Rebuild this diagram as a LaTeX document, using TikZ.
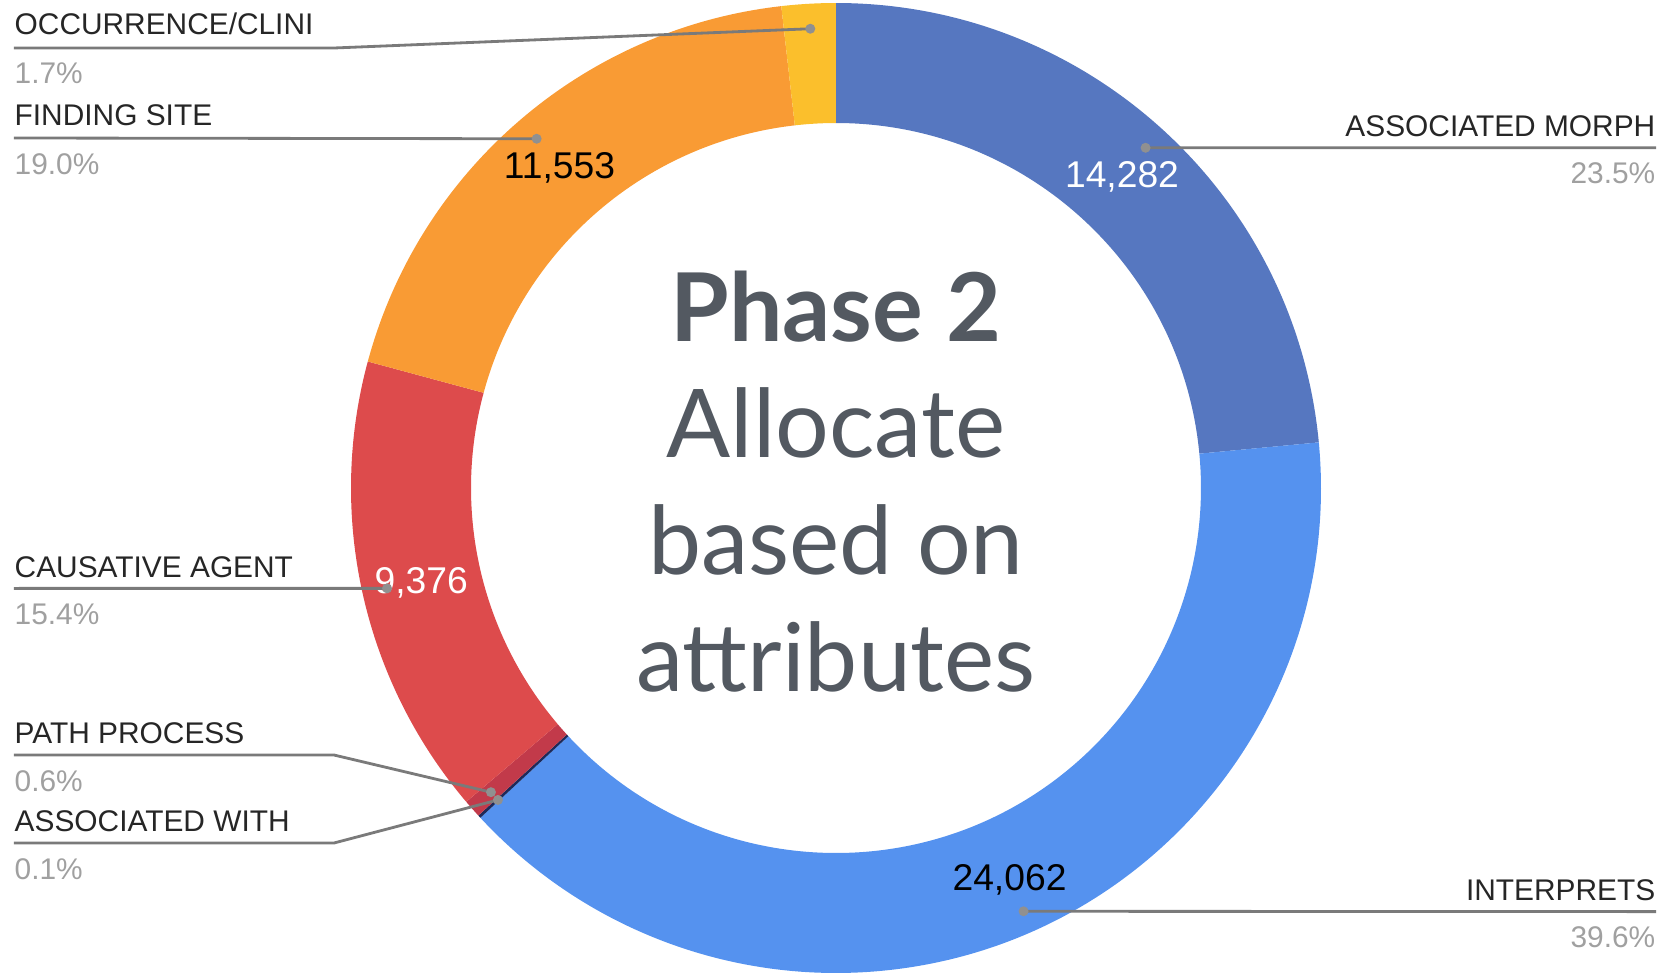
\documentclass[tikz,border=0pt]{standalone}
\usepackage{fontspec}
\usepackage{tikz}
\usepackage{xcolor}
\usetikzlibrary{calc, positioning}

\setmainfont{Liberation Sans}
\newfontfamily\latofont{Lato}

\definecolor{cmorph}{HTML}{5677C0}
\definecolor{cinterp}{HTML}{5592EF}
\definecolor{cwith}{HTML}{1E2A5A}
\definecolor{cpath}{HTML}{C23A4A}
\definecolor{ccaus}{HTML}{DD4B4C}
\definecolor{cfind}{HTML}{F99B34}
\definecolor{cocc}{HTML}{FBBF2C}
\definecolor{ctitle}{HTML}{535961}
\definecolor{cleader}{HTML}{7A7A7A}
\definecolor{cpct}{HTML}{A0A0A0}

\tikzset{
    leader/.style={draw=cleader, line width=0.8pt},
    ldot/.style={fill=cpct!90!black},
    lname/.style={inner sep=0pt, text=black!85, font=\fontsize{8.5}{10}\selectfont},
    lpct/.style={inner sep=0pt, text=cpct, font=\fontsize{8.5}{10}\selectfont},
    lvalue/.style={inner sep=0pt, font=\fontsize{10.6}{12}\selectfont},
    ltitle/.style={inner sep=0pt, anchor=base, text=ctitle, font=\latofont\fontsize{27}{33}\selectfont}
}

\begin{document}
\begin{tikzpicture}
    \useasboundingbox (-8.36, -4.87) rectangle (8.26, 4.88);

    % ring
    \fill[cmorph] (90:4.85) arc[start angle=90, end angle=5.4, radius=4.85] -- (5.4:3.65) arc[start angle=5.4, end angle=90, radius=3.65] -- cycle;
    \fill[cinterp] (5.4:4.85) arc[start angle=5.4, end angle=-137.16, radius=4.85] -- (-137.16:3.65) arc[start angle=-137.16, end angle=5.4, radius=3.65] -- cycle;
    \fill[cwith] (-137.16:4.85) arc[start angle=-137.16, end angle=-137.52, radius=4.85] -- (-137.52:3.65) arc[start angle=-137.52, end angle=-137.16, radius=3.65] -- cycle;
    \fill[cpath] (-137.52:4.85) arc[start angle=-137.52, end angle=-139.68, radius=4.85] -- (-139.68:3.65) arc[start angle=-139.68, end angle=-137.52, radius=3.65] -- cycle;
    \fill[ccaus] (-139.68:4.85) arc[start angle=-139.68, end angle=-195.12, radius=4.85] -- (-195.12:3.65) arc[start angle=-195.12, end angle=-139.68, radius=3.65] -- cycle;
    \fill[cfind] (-195.12:4.85) arc[start angle=-195.12, end angle=-263.52, radius=4.85] -- (-263.52:3.65) arc[start angle=-263.52, end angle=-195.12, radius=3.65] -- cycle;
    \fill[cocc] (-263.52:4.85) arc[start angle=-263.52, end angle=-270, radius=4.85] -- (-270:3.65) arc[start angle=-270, end angle=-263.52, radius=3.65] -- cycle;

    % values
    \node[lvalue, text=white] (vmorph) at ($(47.7:4.25) + (0, -0.03)$) {14,282};
    \node[lvalue, text=black] (vinterp) at ($(-65.9:4.25) + (0, -0.04)$) {24,062};
    \node[lvalue, text=white] (vcaus) at ($(192.6:4.25) + (0, -0.02)$) {9,376};
    \node[lvalue, text=black] (vfind) at ($(130.6:4.25) + (0, -0.03)$) {11,553};

    % centre
    \node[ltitle] (title1) at (0, 1.467) {\bfseries Phase 2};
    \node[ltitle] (title2) at (0, 0.301) {Allocate};
    \node[ltitle] (title3) at (0, -0.865) {based on};
    \node[ltitle] (title4) at (0, -2.031) {attributes};

    % leader ends
    \coordinate (docc) at (93.2:4.6);
    \coordinate (dfind) at (130.6:4.6);
    \coordinate (dcaus) at (192.6:4.6);
    \coordinate (dpath) at (-138.6:4.6);
    \coordinate (dwith) at (-137.3:4.6);
    \coordinate (dmorph) at (47.7:4.6);
    \coordinate (dinterp) at (-66.1:4.63);

    \coordinate (bocc) at (-5.02, 4.40);
    \coordinate (bpath) at (-5.02, -2.67);
    \coordinate (bwith) at (-5.02, -3.55);

    \coordinate (eocc) at (-8.22, 4.40);
    \coordinate (efind) at (-8.22, 3.50);
    \coordinate (ecaus) at (-8.22, -1.004);
    \coordinate (epath) at (-8.22, -2.67);
    \coordinate (ewith) at (-8.22, -3.55);
    \coordinate (emorph) at (8.20, 3.403);
    \coordinate (einterp) at (8.20, -4.236);

    \draw[leader] (docc) -- (bocc) -- (eocc);
    \draw[leader] (dfind) -- (efind);
    \draw[leader] (dcaus) -- (ecaus);
    \draw[leader] (dpath) -- (bpath) -- (epath);
    \draw[leader] (dwith) -- (bwith) -- (ewith);
    \draw[leader] (dmorph) -- (emorph);
    \draw[leader] (dinterp) -- (einterp);

    \foreach \d in {docc, dfind, dcaus, dpath, dwith, dmorph, dinterp}
        \fill[ldot] (\d) circle (0.05);

    % labels
    \node[lname, anchor=base west] (nocc) at ($(eocc) + (0, 0.14)$) {OCCURRENCE/CLINI};
    \node[lpct, anchor=base west] (pocc) at ($(eocc) + (0, -0.35)$) {1.7\%};
    \node[lname, anchor=base west] (nfind) at ($(efind) + (0, 0.13)$) {FINDING SITE};
    \node[lpct, anchor=base west] (pfind) at ($(efind) + (0, -0.36)$) {19.0\%};
    \node[lname, anchor=base west] (ncaus) at ($(ecaus) + (0, 0.11)$) {CAUSATIVE AGENT};
    \node[lpct, anchor=base west] (pcaus) at ($(ecaus) + (0, -0.36)$) {15.4\%};
    \node[lname, anchor=base west] (npath) at ($(epath) + (0, 0.12)$) {PATH PROCESS};
    \node[lpct, anchor=base west] (ppath) at ($(epath) + (0, -0.36)$) {0.6\%};
    \node[lname, anchor=base west] (nwith) at ($(ewith) + (0, 0.12)$) {ASSOCIATED WITH};
    \node[lpct, anchor=base west] (pwith) at ($(ewith) + (0, -0.36)$) {0.1\%};
    \node[lname, anchor=base east] (nmorph) at ($(emorph) + (0, 0.11)$) {ASSOCIATED MORPH};
    \node[lpct, anchor=base east] (pmorph) at ($(emorph) + (0, -0.36)$) {23.5\%};
    \node[lname, anchor=base east] (ninterp) at ($(einterp) + (0, 0.11)$) {INTERPRETS};
    \node[lpct, anchor=base east] (pinterp) at ($(einterp) + (0, -0.36)$) {39.6\%};
\end{tikzpicture}
\end{document}
